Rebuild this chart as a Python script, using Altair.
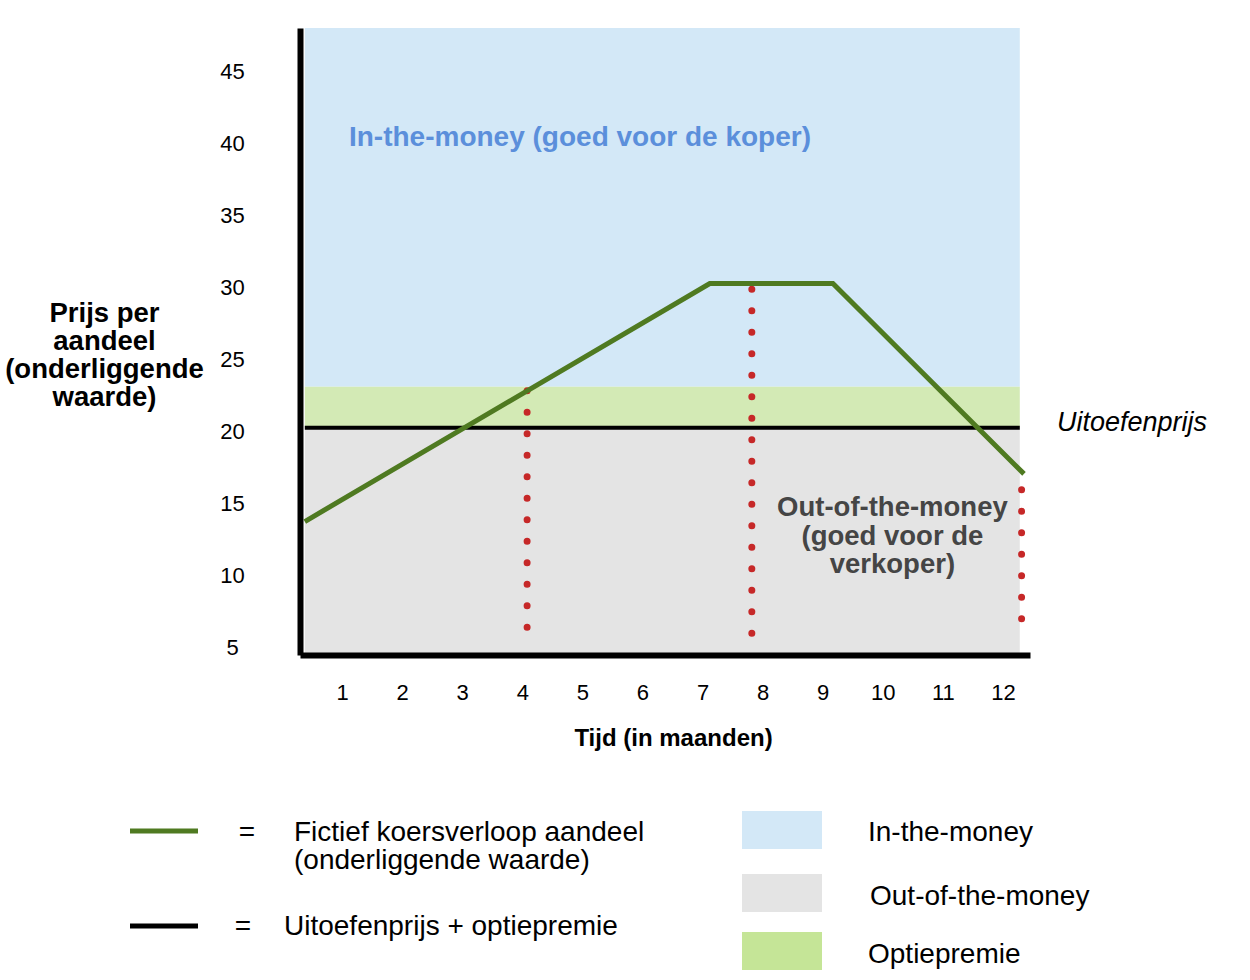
import altair as alt
import pandas as pd

FONT = "Liberation Sans"

# ---- data ----
# fictitious share price path (month, price)
path_month = [0.38, 7.12, 9.17, 12.35]
path_price = [13.77, 30.3, 30.3, 17.08]

# levels
strike_price = 20.28          # uitoefenprijs
premium_top = 23.14           # uitoefenprijs + optiepremie
band_start, band_end = 0.38, 12.28

band_names = ["In-the-money", "Optiepremie", "Out-of-the-money"]
band_low = [premium_top, strike_price, 4.6]
band_high = [48.05, premium_top, strike_price]
band_colors = ["#d3e8f7", "#d3eab5", "#e4e4e4"]

# red dotted drop lines
drop_month = [4.08, 7.82, 12.31]
drop_top = [22.85, 29.91, 15.97]
drop_bottom = [6.02, 4.7, 5.65]

x_ticks = list(range(1, 13))
y_ticks = [5, 10, 15, 20, 25, 30, 35, 40, 45]

# ---- tables ----
bands = pd.DataFrame({"band": band_names, "low": band_low, "high": band_high,
                      "start": band_start, "end": band_end})
path = pd.DataFrame({"month": path_month, "price": path_price})
drops = pd.DataFrame({"month": drop_month, "top": drop_top, "bottom": drop_bottom})
strike = pd.DataFrame({"start": [band_start], "end": [band_end], "price": [strike_price]})
one = pd.DataFrame({"a": [0]})

xs = alt.Scale(domain=[0.3, 12.45], nice=False, zero=False)
ys = alt.Scale(domain=[4.5, 48.05], nice=False, zero=False)

x_axis = alt.Axis(values=x_ticks, title="Tijd (in maanden)", grid=False, ticks=False, tickSize=0,
                  domainWidth=6, domainColor="#000000", labelFontSize=22, labelFont=FONT,
                  labelColor="#000000", labelPadding=37, labelBaseline="middle",
                  labelFlush=False, labelOverlap=False,
                  titleFont=FONT, titleFontSize=24, titleFontWeight="bold", titleColor="#000000",
                  titleX=373, titleY=83, titleBaseline="middle", titleAlign="center", zindex=1)
y_axis = alt.Axis(values=y_ticks, title=["Prijs per", "aandeel", "(onderliggende", "waarde)"],
                  grid=False, ticks=False, tickSize=0, domainWidth=6, domainColor="#000000",
                  labelFontSize=22, labelFont=FONT, labelColor="#000000", labelAlign="center",
                  labelBaseline="middle", labelPadding=68, labelFlush=False, labelOverlap=False,
                  titleFont=FONT, titleFontSize=27.5, titleFontWeight="bold", titleColor="#000000",
                  titleAngle=0, titleAlign="center", titleBaseline="middle", titleLineHeight=28,
                  titleX=-196, titleY=285, zindex=1)


def X(field):
    return alt.X(field, scale=xs, axis=x_axis)


def Y(field):
    return alt.Y(field, scale=ys, axis=y_axis)


band_layer = alt.Chart(bands).mark_rect().encode(
    x=X("start:Q"), x2="end:Q", y=Y("low:Q"), y2="high:Q",
    color=alt.Color("band:N", scale=alt.Scale(domain=band_names, range=band_colors), legend=None),
)

strike_layer = alt.Chart(strike).mark_rule(color="#000000", strokeWidth=4).encode(
    x=X("start:Q"), x2="end:Q", y=Y("price:Q"))

drop_layer = alt.Chart(drops).mark_rule(color="#c62828", strokeWidth=7, strokeDash=[0, 21.5],
                                        strokeCap="round").encode(
    x=X("month:Q"), y=Y("top:Q"), y2="bottom:Q")

path_layer = alt.Chart(path).mark_line(color="#4f7a21", strokeWidth=5).encode(
    x=X("month:Q"), y=Y("price:Q"))


def note(month, price, lines, **kw):
    return alt.Chart(one).mark_text(text=lines, font=FONT, **kw).encode(
        x=X("m:Q"), y=Y("p:Q")
    ).transform_calculate(m=str(month), p=str(price))


in_note = note(4.96, 40.38, "In-the-money (goed voor de koper)", fontSize=28, fontWeight="bold",
               color="#5b8fdb", align="center", baseline="middle")
out_note = note(10.16, 14.68, ["Out-of-the-money", "(goed voor de", "verkoper)"], fontSize=27.5,
                fontWeight="bold", color="#454545", align="center", baseline="middle",
                lineHeight=28.5)
strike_note = note(12.9, 20.6, "Uitoefenprijs", fontSize=27, fontStyle="italic",
                   color="#000000", align="left", baseline="middle")


# ---- custom legend below the plot (pixel layout relative to plot origin) ----
def leg_rule(color, y):
    return alt.Chart(one).mark_rule(color=color, strokeWidth=5).encode(
        x=alt.value(-170), x2=alt.value(-102), y=alt.value(y))


def leg_rect(color, y0, y1):
    return alt.Chart(one).mark_rect(color=color).encode(
        x=alt.value(442), x2=alt.value(522), y=alt.value(y0), y2=alt.value(y1))


def leg_text(txt, x, y, align="left"):
    return alt.Chart(one).mark_text(text=txt, font=FONT, fontSize=28, color="#000000",
                                    align=align, baseline="middle").encode(
        x=alt.value(x), y=alt.value(y))


legend = [
    leg_rule("#4f7a21", 803),
    leg_rule("#000000", 898),
    leg_text("=", -53, 805, "center"),
    leg_text("=", -57, 899, "center"),
    leg_text("Fictief koersverloop aandeel", -6, 805),
    leg_text("(onderliggende waarde)", -6, 833),
    leg_text("Uitoefenprijs + optiepremie", -16, 899),
    leg_rect("#d3e8f7", 783, 821),
    leg_rect("#e4e4e4", 846, 884),
    leg_rect("#c5e597", 904, 942),
    leg_text("In-the-money", 568, 805),
    leg_text("Out-of-the-money", 570, 869),
    leg_text("Optiepremie", 568, 927),
]

chart = alt.layer(band_layer, strike_layer, drop_layer, path_layer, in_note, out_note,
                  strike_note, *legend).properties(
    width=730, height=627,
    autosize=alt.AutoSizeParams(type="none"),
    padding={"left": 300, "top": 28, "right": 220, "bottom": 325},
    background="#ffffff",
).configure_view(stroke=None)

chart.save("out.html", embed_options={"renderer": "svg", "actions": False})
